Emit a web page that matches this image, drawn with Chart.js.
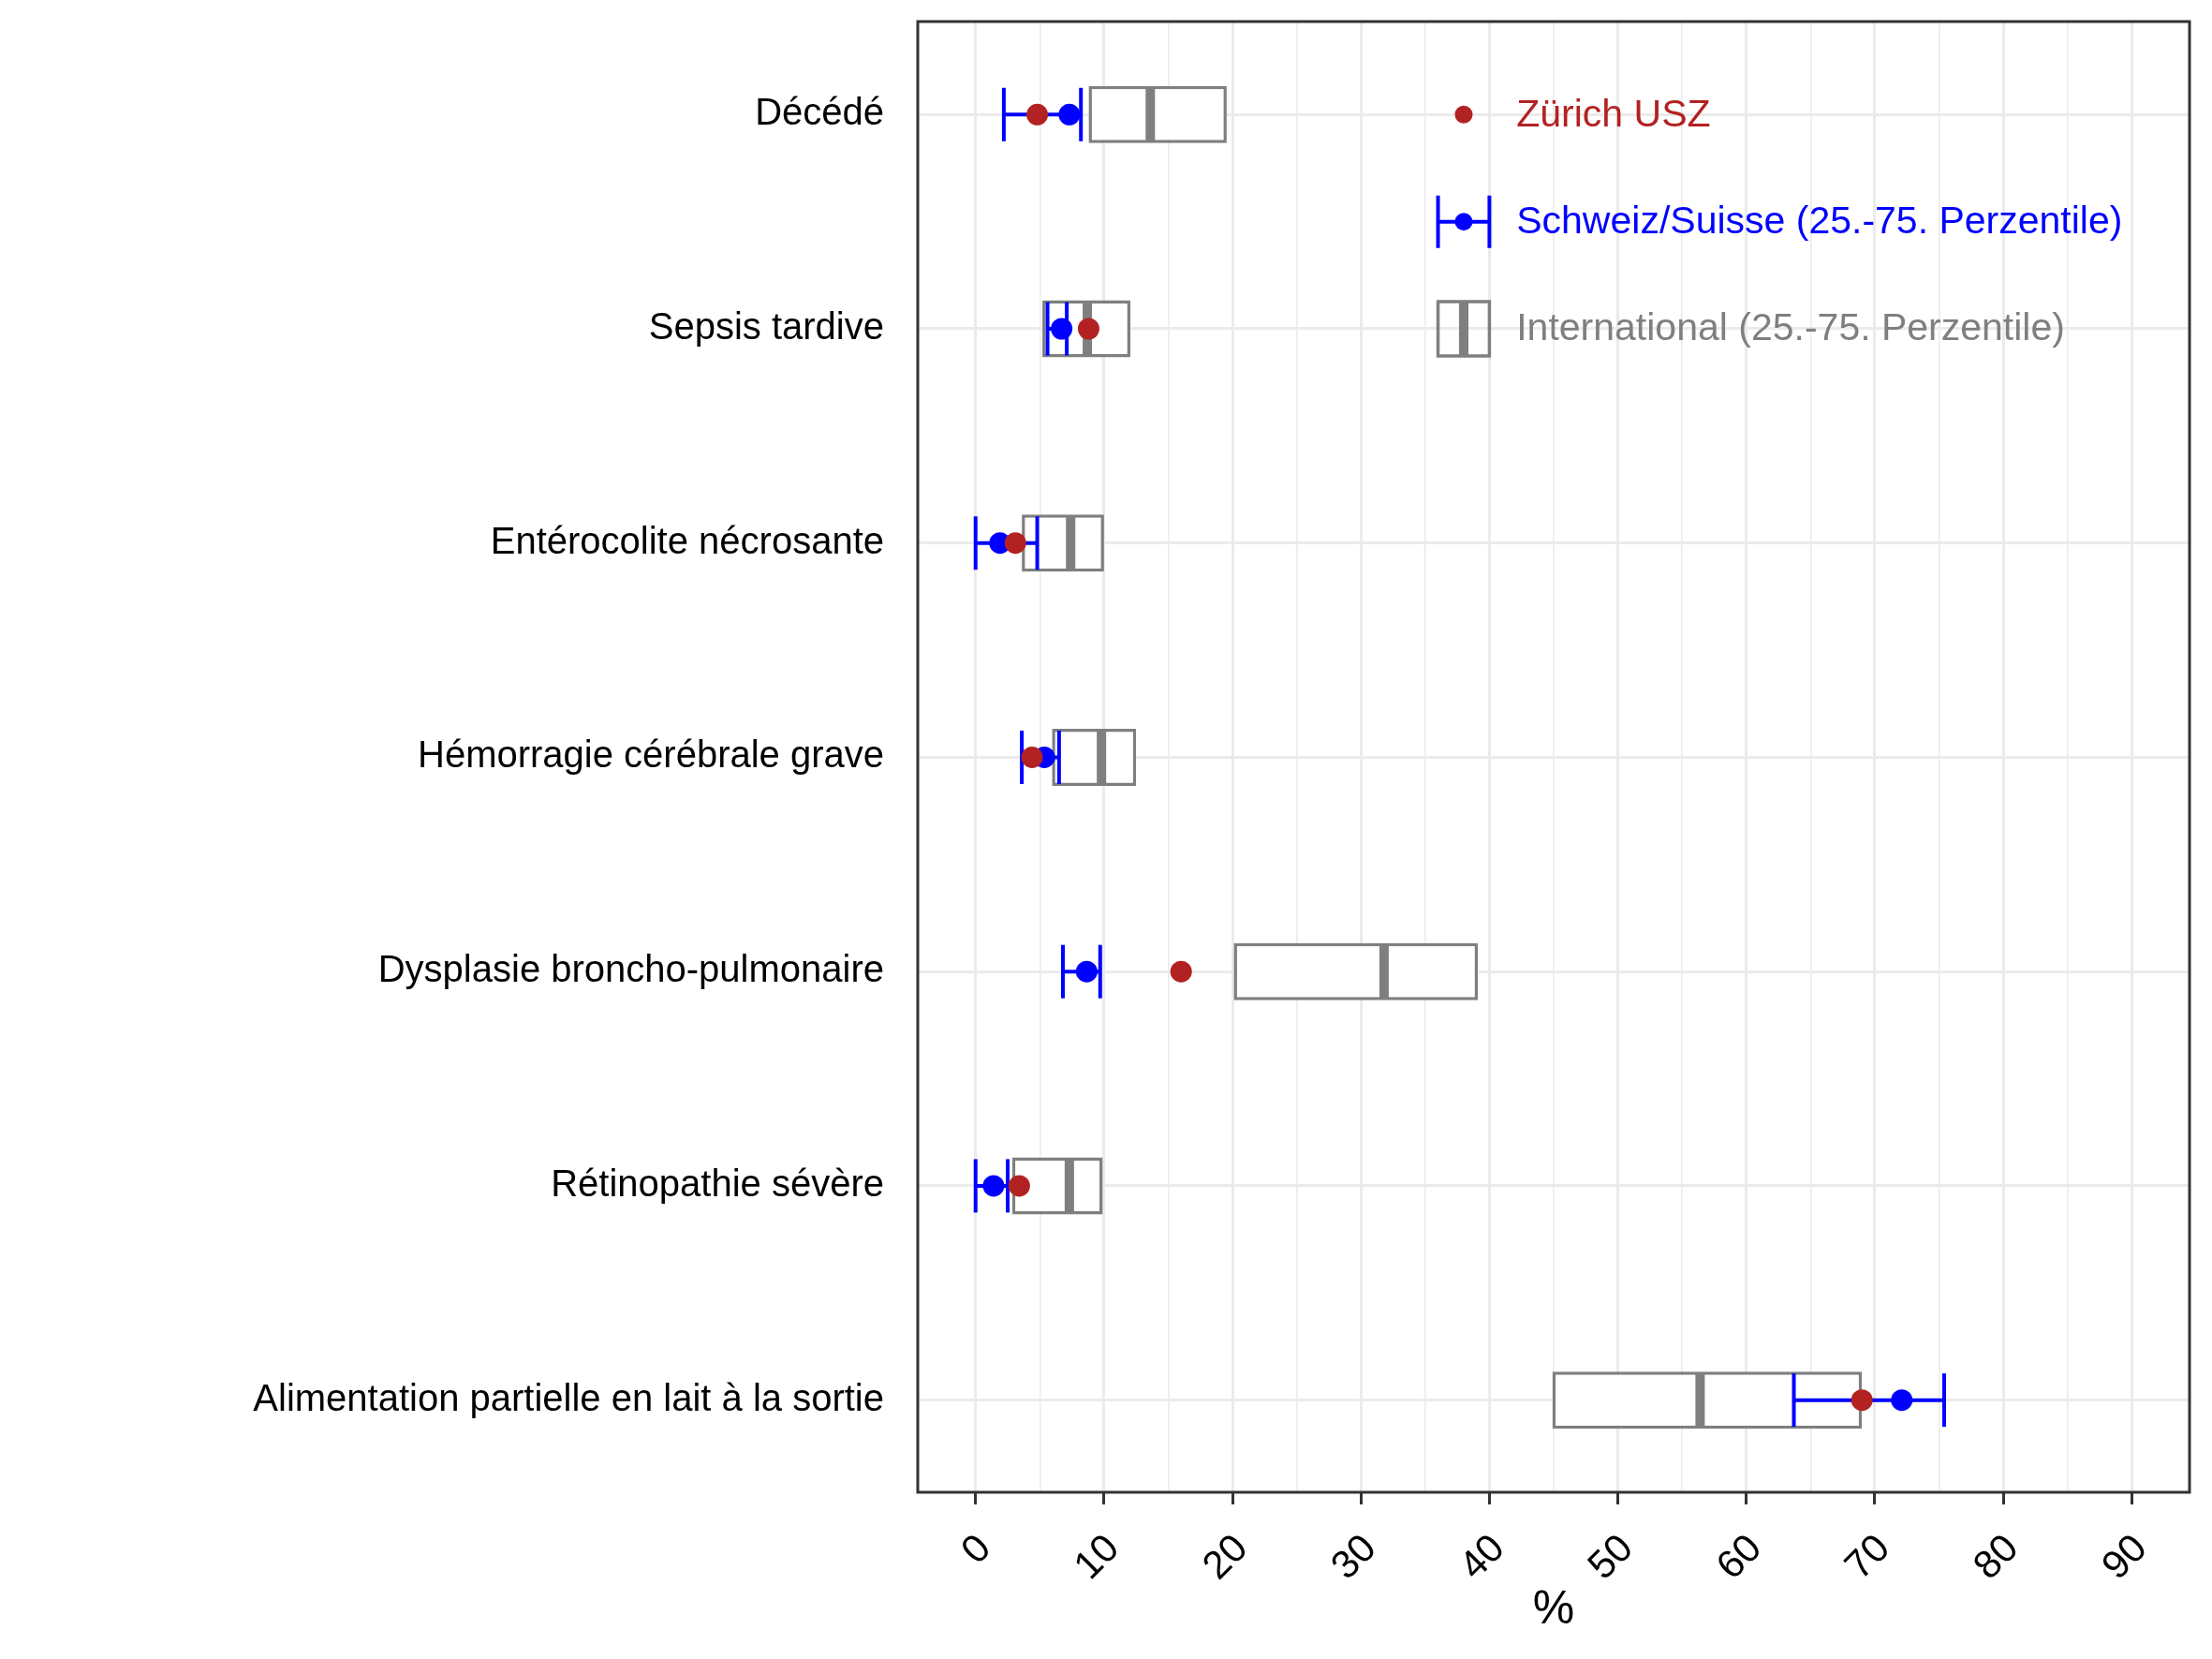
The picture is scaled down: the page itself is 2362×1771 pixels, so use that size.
<!DOCTYPE html>
<html>
<head>
<meta charset="utf-8">
<script src="https://cdn.jsdelivr.net/npm/chart.js@4.4.1/dist/chart.umd.min.js"></script>
<style>
  html, body { margin: 0; padding: 0; background: #fff; }
  #wrap { width: 2362px; height: 1771px; }
</style>
</head>
<body>
<div id="wrap"><canvas id="myChart"></canvas></div>
<script>
// values (%)
const categories = [
  'Décédé',
  'Sepsis tardive',
  'Entérocolite nécrosante',
  'Hémorragie cérébrale grave',
  'Dysplasie broncho-pulmonaire',
  'Rétinopathie sévère',
  'Alimentation partielle en lait à la sortie'
];
const usz       = [4.8, 8.8, 3.1, 4.4, 16.0, 3.4, 69.0];
const chMedian  = [7.3, 6.7, 1.9, 5.35, 8.65, 1.4, 72.1];
const chP25     = [2.2, 5.6, 0.0, 3.6, 6.8, 0.0, 63.7];
const chP75     = [8.2, 7.1, 4.8, 6.5, 9.7, 2.5, 75.4];
const intP25    = [8.8, 5.2, 3.6, 5.95, 20.1, 2.85, 44.9];
const intMedian = [13.6, 8.7, 7.4, 9.8, 31.8, 7.3, 56.4];
const intP75    = [19.55, 12.05, 10.0, 12.5, 39.1, 9.9, 69.0];
const xTicks = [0, 10, 20, 30, 40, 50, 60, 70, 80, 90];
const legendLabels = ['Zürich USZ', 'Schweiz/Suisse (25.-75. Perzentile)', 'International (25.-75. Perzentile)'];

const RED = '#B22222', BLUE = '#0000FF', GREY = '#7F7F7F';
const FONT = '"Liberation Sans", Arial, sans-serif';

const rows = categories.map((c, i) => i + 1);
const pts = (vals) => vals.map((v, i) => ({x: v, y: rows[i]}));
const ranges = (lo, hi) => lo.map((v, i) => ({x: [v, hi[i]], y: rows[i]}));

const minorTicks = xTicks.slice(1).map((v, i) => (v + xTicks[i]) / 2);
const allXTicks = xTicks.concat(minorTicks).sort((a, b) => a - b);

const frame = {
  id: 'frame',
  afterDatasetsDraw(chart) {
    const {ctx, chartArea: a} = chart;
    ctx.save();
    ctx.strokeStyle = '#333333';
    ctx.lineWidth = 3;
    ctx.strokeRect(a.left, a.top, a.right - a.left, a.bottom - a.top);
    ctx.restore();
  },
  afterDraw(chart) {
    const {ctx} = chart;
    const xs = chart.scales.x, ys = chart.scales.y;
    const cx = xs.getPixelForValue(38);
    const half = xs.getPixelForValue(40) - cx;
    const tx = xs.getPixelForValue(42.1);
    const rowsY = [1, 1.5, 2].map(v => ys.getPixelForValue(v));
    ctx.save();
    // Zürich USZ
    ctx.fillStyle = RED;
    ctx.beginPath(); ctx.arc(cx, rowsY[0], 9.5, 0, Math.PI * 2); ctx.fill();
    // Schweiz
    ctx.strokeStyle = BLUE; ctx.lineWidth = 4;
    ctx.beginPath();
    ctx.moveTo(cx - half, rowsY[1]); ctx.lineTo(cx + half, rowsY[1]);
    ctx.moveTo(cx - half, rowsY[1] - 28); ctx.lineTo(cx - half, rowsY[1] + 28);
    ctx.moveTo(cx + half, rowsY[1] - 28); ctx.lineTo(cx + half, rowsY[1] + 28);
    ctx.stroke();
    ctx.fillStyle = BLUE;
    ctx.beginPath(); ctx.arc(cx, rowsY[1], 9.5, 0, Math.PI * 2); ctx.fill();
    // International
    ctx.strokeStyle = GREY; ctx.lineWidth = 3.5;
    ctx.strokeRect(cx - half, rowsY[2] - 29, half * 2, 58);
    ctx.lineWidth = 10;
    ctx.beginPath(); ctx.moveTo(cx, rowsY[2] - 29); ctx.lineTo(cx, rowsY[2] + 29); ctx.stroke();
    // texts
    ctx.font = '41px ' + FONT;
    ctx.textBaseline = 'middle';
    ctx.textAlign = 'left';
    [RED, BLUE, GREY].forEach((col, i) => {
      ctx.fillStyle = col;
      ctx.fillText(legendLabels[i], tx, rowsY[i] + 1);
    });
    ctx.restore();
  }
};

new Chart(document.getElementById('myChart'), {
  type: 'scatter',
  data: {
    datasets: [
      {label: 'Zürich USZ', data: pts(usz), backgroundColor: RED,
       pointRadius: 11.5, borderWidth: 0},
      {label: 'Schweiz median', data: pts(chMedian), backgroundColor: BLUE,
       pointRadius: 11.5, borderWidth: 0},
      {label: 'Schweiz caps', data: pts(chP25).concat(pts(chP75)),
       pointStyle: 'line', rotation: 90, pointRadius: 28.5,
       borderColor: BLUE, borderWidth: 4},
      {type: 'bar', label: 'Schweiz range', indexAxis: 'y', grouped: false,
       data: ranges(chP25, chP75), backgroundColor: BLUE,
       borderWidth: 0, maxBarThickness: 4},
      {label: 'International median', data: pts(intMedian),
       pointStyle: 'line', rotation: 90, pointRadius: 29,
       borderColor: GREY, borderWidth: 10},
      {type: 'bar', label: 'International', indexAxis: 'y', grouped: false,
       data: ranges(intP25, intP75), backgroundColor: '#FFFFFF',
       borderColor: GREY, borderWidth: 3.5, borderSkipped: false,
       maxBarThickness: 61}
    ]
  },
  options: {
    responsive: true,
    maintainAspectRatio: false,
    devicePixelRatio: 1,
    animation: false,
    events: [],
    layout: {autoPadding: false, padding: {top: 23, right: 24, left: 0, bottom: 0}},
    plugins: {legend: {display: false}, tooltip: {enabled: false}},
    scales: {
      x: {
        type: 'linear',
        min: -4.5, max: 94.5,
        offset: false,
        afterBuildTicks: (s) => { s.ticks = allXTicks.map(v => ({value: v})); },
        afterFit: (s) => { s.height = 178; s.paddingLeft = 0; s.paddingRight = 0; },
        border: {display: false},
        grid: {
          offset: false,
          color: '#EBEBEB',
          lineWidth: (c) => (c.tick && c.tick.value % 10 === 0) ? 3 : 1.6,
          tickColor: (c) => (c.tick && c.tick.value % 10 === 0) ? '#333333' : 'rgba(0,0,0,0)',
          tickLength: 13,
          tickWidth: 3
        },
        ticks: {
          autoSkip: false,
          minRotation: 45, maxRotation: 45,
          padding: 23,
          labelOffset: 10,
          color: '#000',
          font: {family: FONT, size: 42},
          callback: (v) => (v % 10 === 0 ? String(v) : '')
        },
        title: {
          display: true, text: '%', color: '#000',
          font: {family: FONT, size: 50},
          padding: {top: 0, bottom: 22}
        }
      },
      y: {
        type: 'linear',
        reverse: true,
        offset: false,
        min: 0.566, max: 7.43,
        afterBuildTicks: (s) => { s.ticks = rows.map(v => ({value: v})); },
        afterFit: (s) => { s.width = 980; s.paddingTop = 0; s.paddingBottom = 0; },
        border: {display: false},
        grid: {
          offset: false,
          color: '#EBEBEB', lineWidth: 3,
          drawTicks: true, tickLength: 36, tickColor: 'rgba(0,0,0,0)'
        },
        ticks: {
          autoSkip: false,
          padding: 0,
          color: '#000',
          font: {family: FONT, size: 40},
          callback: (v) => categories[Math.round(v) - 1]
        }
      }
    }
  },
  plugins: [frame]
});
</script>
</body>
</html>
